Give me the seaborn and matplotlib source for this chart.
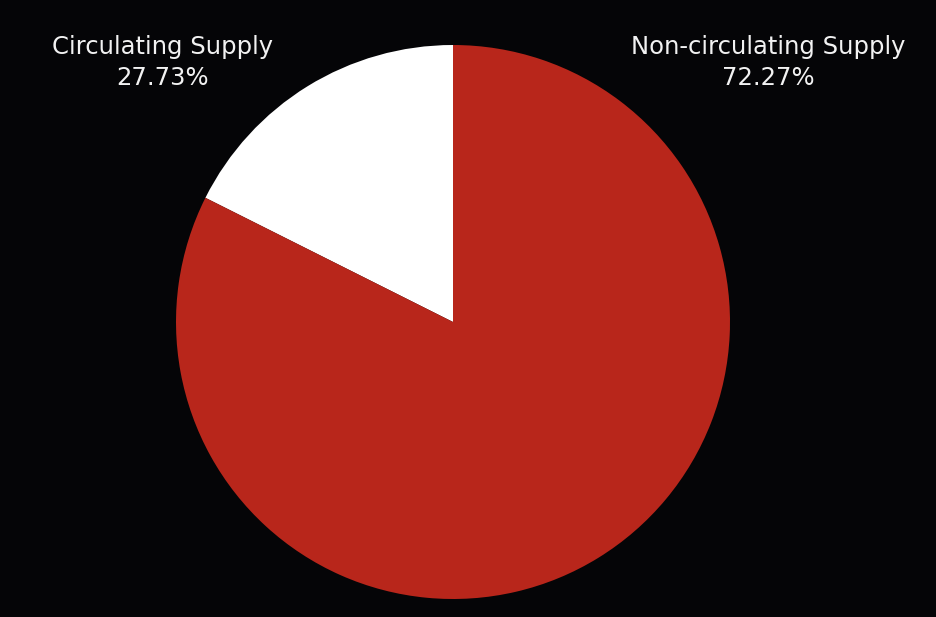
import matplotlib
matplotlib.use("Agg")
import matplotlib.pyplot as plt
import seaborn as sns

# slice sizes as drawn in the picture (the white wedge spans about 63 degrees)
categories = ["Circulating Supply", "Non-circulating Supply"]
slice_sizes = [17.6, 82.4]
# percentages printed in the labels
label_pcts = ["27.73%", "72.27%"]
colors = ["#ffffff", "#b8261b"]

sns.set_theme(style="dark", rc={"figure.facecolor": "#050507", "axes.facecolor": "#050507"})
plt.rcParams["font.family"] = ["DejaVu Sans"]

fig = plt.figure(figsize=(9.37, 6.17), dpi=100)
ax = fig.add_axes([176 / 937, 18 / 617, 554 / 937, 554 / 617])
ax.pie(slice_sizes, colors=colors, startangle=90, counterclock=True,
       wedgeprops={"linewidth": 0})
ax.set_xlim(-1, 1)
ax.set_ylim(-1, 1)
ax.set_aspect("equal")
ax.axis("off")

# labels in the top corners, name on one line and percent below
label_x = [163 / 937, 768 / 937]
for x, name, pct in zip(label_x, categories, label_pcts):
    fig.text(x, 1 - 47 / 617, name, color="#f2f2f2", ha="center", va="center", fontsize=17.5)
    fig.text(x, 1 - 78 / 617, pct, color="#f2f2f2", ha="center", va="center", fontsize=17.5)

fig.savefig("out.png", dpi=100, facecolor=fig.get_facecolor())
